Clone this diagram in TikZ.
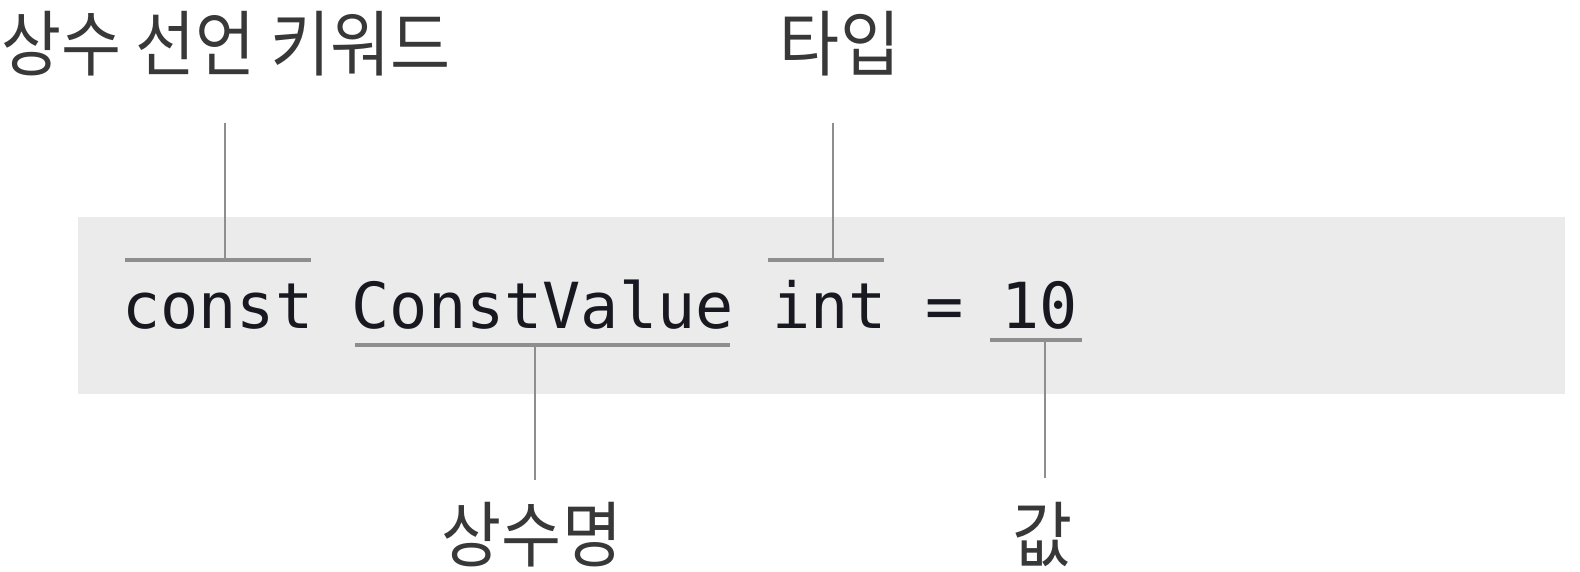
\documentclass[tikz,border=0pt]{standalone}
\usepackage{fontspec}
\newfontfamily\krfont{Noto Sans CJK KR}
\newfontfamily\codefont{DejaVu Sans Mono}
\definecolor{boxgray}{HTML}{EBEBEB}
\definecolor{linegray}{HTML}{8E8E8E}
\definecolor{labelcol}{HTML}{383838}
\definecolor{codecol}{HTML}{181820}
\newcommand{\tallkr}[1]{\scalebox{1.02}[1.12]{#1}}
\tikzset{
  lab/.style={font=\krfont\fontsize{64}{70}\selectfont, text=labelcol, inner sep=0pt, anchor=base},
  tok/.style={font=\codefont\fontsize{63.5}{70}\selectfont, text=codecol, inner sep=0pt, anchor=base west},
  bar/.style={draw=linegray, line width=3.2pt},
  stem/.style={draw=linegray, line width=2.4pt}
}
\begin{document}
\begin{tikzpicture}[x=1pt,y=-1pt]
\useasboundingbox (0,0) rectangle (1580,572);
\fill[white] (0,0) rectangle (1580,572);
% code box
\fill[boxgray] (78,217) rectangle (1565,394);
% code tokens (monospace advance 38.23)
\node[tok] (kw)  at (122,328) {const};
\node[tok] (nm)  at (351.4,328) {ConstValue};
\node[tok] (ty)  at (771.9,328) {int};
\node[tok] (eq)  at (924.8,328) {=};
\node[tok] (val) at (1001.3,328) {10};
% labels
\node[lab] (lkw) at (226,71) {\tallkr{상수 선언 키워드}};
\node[lab] (lty) at (840,71) {\tallkr{타입}};
\node[lab] (lnm) at (532,561) {\tallkr{상수명}};
\node[lab] (lval) at (1043,561) {\tallkr{값}};
% bracket coordinates
\coordinate (kwA) at (125,260); \coordinate (kwB) at (311,260);
\coordinate (tyA) at (768,260); \coordinate (tyB) at (884,260);
\coordinate (nmA) at (355,345); \coordinate (nmB) at (730,345);
\coordinate (vaA) at (990,340); \coordinate (vaB) at (1082,340);
\draw[bar] (kwA) -- (kwB);
\draw[bar] (tyA) -- (tyB);
\draw[bar] (nmA) -- (nmB);
\draw[bar] (vaA) -- (vaB);
% stems
\coordinate (kwS) at (225,123);
\coordinate (tyS) at (833,123);
\coordinate (nmS) at (535,480);
\coordinate (vaS) at (1045,478);
\draw[stem] (kwS) -- (kwS |- kwA);
\draw[stem] (tyS) -- (tyS |- tyA);
\draw[stem] (nmS) -- (nmS |- nmA);
\draw[stem] (vaS) -- (vaS |- vaA);
\end{tikzpicture}
\end{document}
